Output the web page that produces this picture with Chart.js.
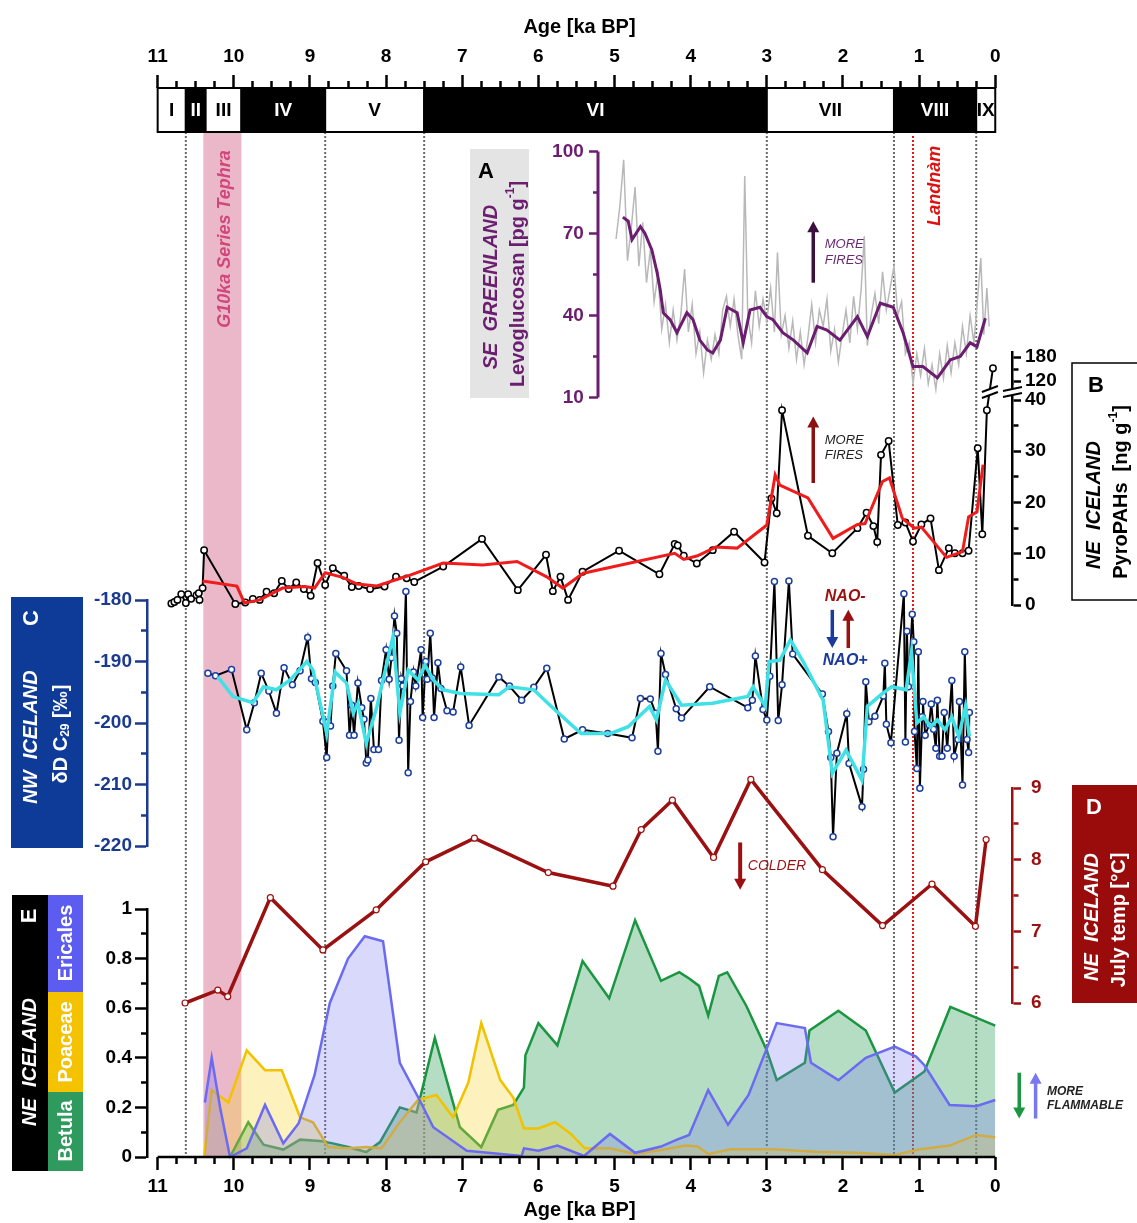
<!DOCTYPE html>
<html>
<head>
<meta charset="utf-8">
<script src="https://cdn.jsdelivr.net/npm/chart.js@4.4.1/dist/chart.umd.min.js"></script>
<style>
  html, body { margin: 0; padding: 0; background: #fff; }
</style>
</head>
<body>
<canvas id="chart" width="1137" height="1223"></canvas>
<script>
// ---- period bar (ka BP) ----
const periodNames = ['I', 'II', 'III', 'IV', 'V', 'VI', 'VII', 'VIII', 'IX'];
const periodStart = [11, 10.63, 10.37, 9.9, 8.8, 7.5, 3.0, 1.33, 0.25];
const periodEnd   = [10.63, 10.37, 9.9, 8.8, 7.5, 3.0, 1.33, 0.25, 0];
const periodDark  = [false, true, false, true, false, true, false, true, false];
const boundaryAges = [10.63, 8.8, 7.5, 3.0, 1.33, 0.25];
const landnamAge = 1.08;
const tephraBand = [10.4, 9.9];

// ---- A: SE Greenland levoglucosan ----
const levoRawAge = [
  4.98,4.93,4.88,4.83,4.78,4.73,4.68,4.63,4.58,4.53,
  4.48,4.43,4.38,4.33,4.28,4.23,4.18,4.13,4.08,4.03,
  3.98,3.93,3.88,3.83,3.78,3.73,3.68,3.63,3.58,3.53,
  3.48,3.43,3.38,3.33,3.29,3.25,3.20,3.15,3.10,3.05,
  3.00,2.95,2.90,2.86,2.81,2.76,2.71,2.66,2.61,2.56,
  2.51,2.46,2.41,2.36,2.31,2.26,2.21,2.16,2.11,2.06,
  2.01,1.96,1.91,1.86,1.81,1.76,1.72,1.68,1.63,1.58,
  1.53,1.48,1.43,1.38,1.33,1.28,1.23,1.18,1.13,1.08,
  1.03,0.98,0.93,0.88,0.83,0.78,0.73,0.68,0.63,0.58,
  0.53,0.48,0.43,0.38,0.33,0.28,0.23,0.19,0.15,0.11,
  0.08];
const levoRaw = [
  68,80,97,60,72,87,58,74,52,64,
  45,55,35,44,30,42,31,40,57,34,
  44,26,34,19,31,24,33,26,42,47,
  36,46,33,24,91,40,30,49,36,46,
  38,50,34,63,33,40,28,38,24,34,
  22,32,44,30,42,36,46,27,35,23,
  33,42,30,47,35,50,69,29,40,48,
  37,56,42,50,58,40,45,26,30,15,
  26,18,28,15,22,13,26,17,29,19,
  30,22,36,26,40,30,47,61,33,50,
  36];
const levoSmoothAge = [
  4.89,4.82,4.77,4.66,4.60,4.51,4.44,4.40,4.36,4.27,
  4.18,4.05,3.97,3.88,3.78,3.71,3.61,3.52,3.39,3.31,
  3.22,3.09,3.00,2.92,2.79,2.65,2.47,2.34,2.21,2.04,
  1.81,1.68,1.51,1.34,1.21,1.08,0.95,0.76,0.59,0.46,
  0.33,0.24,0.13];
const levoSmooth = [
  76,74.5,67.8,72.5,70,64,55.6,49.4,41,38.5,
  33.7,41,38.5,31,27.4,26.3,31,43,41,30,
  42,43,39.6,38.5,33.7,31,26.3,36,34.7,31,
  39.6,32.3,44.5,43,33.7,21.3,21.3,17.2,23.8,25,
  30,28.6,39];

// ---- B: NE Iceland pyroPAHs ----
const pahAge = [
  10.82,10.78,10.74,10.69,10.63,10.60,10.56,10.49,10.46,10.45,
  10.41,10.39,9.98,9.85,9.75,9.66,9.57,9.47,9.37,9.28,
  9.18,9.08,8.99,8.90,8.80,8.70,8.55,8.45,8.36,8.21,
  8.02,7.87,7.73,7.63,7.25,6.74,6.27,5.90,5.81,5.71,
  5.61,5.42,4.94,4.41,4.21,4.17,4.09,3.92,3.71,3.43,
  3.03,2.94,2.87,2.80,2.46,2.14,1.81,1.69,1.60,1.55,
  1.50,1.40,1.28,1.18,1.08,0.97,0.85,0.74,0.61,0.53,
  0.43,0.35,0.23,0.17,0.11];
const pah = [
  0.3,0.6,1.0,2.1,0.4,2.1,1.2,1.9,2.3,1.0,
  3.3,10.7,0.2,0.5,1.2,1.0,2.6,2.3,4.7,3.1,
  4.4,3.1,1.8,8.2,3.9,7.2,5.7,3.5,3.7,3.1,
  3.6,5.5,5.2,4.5,7.5,12.9,2.9,9.8,2.7,5.5,
  1.0,6.5,10.6,6.0,11.9,11.6,9.6,8.1,10.7,14.3,
  8.3,20.8,17.9,38.0,13.5,10.1,15.0,18.0,15.4,12.3,
  29.3,32.0,15.6,16.1,12.4,15.7,16.9,6.8,11.1,10.1,
  10.1,10.6,30.6,13.8,38.0];
const pahTopAge = [0.03];
const pahTop = [152];
const pahSmoothAge = [
  10.41,9.96,9.86,9.66,9.36,9.07,8.94,8.80,8.57,8.38,
  8.12,7.73,7.25,6.73,6.28,5.89,5.68,5.41,4.21,4.09,
  3.91,3.67,3.39,3.00,2.89,2.83,2.46,2.13,1.81,1.71,
  1.48,1.39,1.22,1.06,0.97,0.64,0.43,0.35,0.24,0.16];
const pahSmooth = [
  4.7,3.7,0.4,1.0,3.3,3.6,3.3,6.3,5.4,4.1,
  3.7,5.6,8.2,7.8,8.5,5.5,3.3,6.2,10.1,8.9,
  9.6,11.3,11.1,15.6,25.4,23.4,20.9,13.0,15.7,15.9,
  24.1,24.8,16.9,15.0,15.2,9.3,10.4,17.2,18.2,27.4];

// ---- C: NW Iceland dD C29 ----
const ddAge = [
  10.34,10.24,10.03,9.83,9.73,9.64,9.54,9.44,9.34,9.23,
  9.13,9.03,8.98,8.93,8.83,8.78,8.76,8.73,8.70,8.66,
  8.52,8.48,8.45,8.42,8.37,8.32,8.29,8.26,8.24,8.20,
  8.16,8.10,8.06,8.00,7.96,7.93,7.89,7.86,7.83,7.80,
  7.78,7.74,7.71,7.68,7.64,7.61,7.54,7.52,7.48,7.46,
  7.42,7.39,7.37,7.32,7.28,7.20,7.12,7.02,6.91,6.52,
  6.38,6.22,6.06,5.89,5.66,5.42,5.09,4.77,4.66,4.53,
  4.46,4.43,4.39,4.33,4.19,4.12,3.75,3.25,3.19,3.15,
  3.05,3.00,2.96,2.90,2.85,2.80,2.71,2.66,2.27,2.19,
  2.16,2.13,2.08,1.95,1.92,1.75,1.73,1.70,1.66,1.58,
  1.47,1.45,1.43,1.37,1.20,1.18,1.16,1.14,1.09,1.07,
  1.06,1.03,1.01,0.99,0.96,0.95,0.92,0.87,0.84,0.81,
  0.78,0.76,0.73,0.70,0.67,0.63,0.57,0.54,0.49,0.47,
  0.43,0.40,0.37,0.35,0.34];
const dd = [
  -191.9,-192.3,-191.3,-201.1,-196.7,-191.9,-194.8,-198.4,-191.0,-193.8,
  -191.5,-186.1,-192.8,-193.4,-199.7,-205.6,-199.8,-200.5,-194.0,-188.7,
  -191.5,-202.0,-197.1,-202.0,-193.5,-197.5,-199.4,-206.5,-206.0,-196.0,
  -204.3,-204.3,-193.1,-188.1,-192.9,-189.4,-182.6,-185.4,-202.8,-192.8,
  -194.0,-178.6,-208.1,-196.5,-191.7,-194.0,-188.1,-199.1,-190.0,-192.9,
  -185.4,-192.7,-199.1,-190.2,-194.4,-198.0,-198.2,-190.9,-200.4,-192.5,
  -194.0,-196.3,-194.2,-191.1,-202.6,-201.1,-201.7,-202.4,-196.0,-196.1,
  -198.4,-204.6,-188.7,-192.1,-197.7,-199.2,-194.1,-197.5,-196.3,-189.1,
  -197.8,-199.5,-192.4,-177.0,-199.6,-193.8,-176.9,-188.8,-195.3,-201.4,
  -205.6,-218.5,-204.9,-198.5,-206.6,-213.6,-207.5,-193.3,-199.8,-198.9,
  -195.6,-190.3,-200.2,-203.2,-179.0,-203.1,-185.1,-194.1,-182.3,-186.8,
  -201.4,-207.4,-188.4,-210.6,-199.0,-196.5,-202.0,-200.3,-196.9,-201.0,
  -204.1,-196.3,-205.4,-205.4,-198.3,-204.1,-193.1,-205.4,-202.7,-196.5,
  -210.1,-188.4,-202.7,-204.8,-198.3];
const ddSmoothAge = [
  10.21,10.01,9.75,9.61,9.44,9.26,9.04,8.96,8.78,8.67,
  8.52,8.43,8.37,8.26,8.12,8.04,7.91,7.82,7.71,7.58,
  7.49,7.38,7.25,7.03,6.52,6.38,6.06,5.83,5.44,5.05,
  4.82,4.54,4.45,4.33,4.12,3.71,3.25,3.18,3.02,2.97,
  2.83,2.69,2.51,2.26,2.14,1.96,1.75,1.68,1.50,1.36,
  1.17,1.10,1.03,0.94,0.85,0.76,0.66,0.57,0.48,0.39,
  0.34];
const ddSmooth = [
  -192.5,-195.7,-196.7,-194.1,-194.6,-193.0,-190.0,-191.4,-201.7,-191.7,
  -193.5,-198.4,-196.8,-203.3,-197.3,-193.0,-186.0,-198.4,-191.4,-193.0,
  -190.6,-193.0,-194.6,-195.2,-195.4,-194.1,-194.6,-197.3,-201.7,-201.7,
  -200.6,-197.3,-199.5,-193.0,-197.1,-196.8,-195.7,-194.1,-197.3,-190.0,
  -189.8,-186.5,-190.3,-196.3,-208.2,-204.4,-209.3,-197.3,-195.4,-194.1,
  -194.6,-188.4,-200.0,-199.0,-200.6,-199.5,-201.1,-199.0,-202.2,-197.3,
  -202.2];

// ---- D: NE Iceland July temperature ----
const tempAge = [10.64,10.21,10.08,9.52,8.83,8.13,7.48,6.84,5.87,5.02,4.65,4.24,3.70,3.21,2.27,1.48,0.83,0.26,0.12];
const temp    = [6.0,6.18,6.09,7.47,6.74,7.30,7.97,8.30,7.82,7.63,8.42,8.83,8.03,9.12,7.86,7.08,7.66,7.07,8.28];

// ---- E: NE Iceland pollen ----
const ericAge = [
  10.38,10.29,10.18,10.05,9.83,9.59,9.35,9.15,8.94,8.74,
  8.50,8.28,8.04,7.82,7.56,7.38,6.94,6.49,6.22,6.19,
  6.00,5.75,5.40,5.06,4.73,4.39,4.18,4.02,3.77,3.51,
  3.24,2.87,2.50,2.42,2.06,1.70,1.32,1.04,0.93,0.60,
  0.25,0.00];
const eric = [
  0.22,0.40,0.20,0.00,0.035,0.21,0.055,0.135,0.33,0.62,
  0.80,0.89,0.87,0.38,0.23,0.12,0.025,0.012,0.004,0.035,
  0.025,0.046,0.004,0.093,0.017,0.042,0.07,0.089,0.27,0.13,
  0.25,0.54,0.52,0.38,0.31,0.40,0.445,0.405,0.37,0.21,
  0.205,0.23];
const poaAge = [
  10.39,10.29,10.07,9.83,9.59,9.37,9.13,8.96,8.76,8.50,
  8.26,8.06,7.82,7.58,7.34,7.12,6.92,6.75,6.50,6.33,
  6.19,6.00,5.78,5.58,5.39,5.06,4.73,4.39,4.07,3.91,
  3.77,3.47,2.91,2.36,1.81,1.32,0.99,0.60,0.25,0.00];
const poa = [
  0,0.27,0.22,0.43,0.35,0.35,0.16,0.14,0.04,0.035,
  0.04,0.035,0.14,0.23,0.25,0.16,0.30,0.54,0.31,0.24,
  0.115,0.115,0.14,0.095,0.035,0.035,0.012,0.028,0.046,0.042,
  0.012,0.031,0.031,0.021,0.017,0.008,0.031,0.046,0.089,0.08];
const betAge = [
  10.05,9.81,9.61,9.35,9.13,8.87,8.70,8.50,8.26,8.08,
  7.82,7.60,7.36,7.03,6.75,6.53,6.33,6.19,6.17,6.00,
  5.75,5.42,5.07,4.73,4.39,4.15,4.02,3.89,3.77,3.63,
  3.52,3.27,3.00,2.87,2.50,2.44,2.06,1.70,1.32,0.93,
  0.59,0.00];
const bet = [
  0,0.14,0.05,0.03,0.07,0.065,0.055,0.04,0.02,0.06,
  0.20,0.18,0.48,0.12,0.04,0.19,0.21,0.28,0.41,0.54,
  0.45,0.79,0.64,0.955,0.71,0.745,0.72,0.69,0.57,0.73,
  0.745,0.61,0.43,0.31,0.38,0.51,0.59,0.51,0.26,0.345,
  0.605,0.53];

// ---- tick labels ----
const ageLabels = [0,1,2,3,4,5,6,7,8,9,10,11];
const levoTicks = [10,40,70,100];
const pahTicks = [0,10,20,30,40];
const pahTopTicks = [120,180];
const ddTicks = [-220,-210,-200,-190,-180];
const tempTicks = [6,7,8,9];
const pollenTicks = [0,0.2,0.4,0.6,0.8,1];

// ---- layout ----
const FAM = "'Liberation Sans', Arial, sans-serif";
Chart.defaults.font.family = FAM;
const AREA_TOP = 88, AREA_BOTTOM = 1157, BAR_H = 44;
const X_MIN = -0.22, X_MAX = 11.14;
const KA_PX = 865 / (X_MAX - X_MIN);
const A_AXIS_AGE = 5.22;
const A_LABEL_AGE = A_AXIS_AGE + 14 / KA_PX;
const PURPLE = '#6b1d70', DRED = '#9b1010', BLUE = '#1a3a8f';
const tickFont = { family: FAM, size: 19, weight: 'bold' };
const titleFont = { family: FAM, size: 20, weight: 'bold' };

function fitRange(v1, p1, v2, p2) {
  const s = (p1 - p2) / (v2 - v1);
  return { min: v1 - (AREA_BOTTOM - p1) / s, max: v2 + (p2 - AREA_TOP) / s };
}
function withMinors(majors) {
  const out = [];
  majors.forEach((v, i) => { out.push(v); if (i < majors.length - 1) out.push((v + majors[i + 1]) / 2); });
  return out;
}
const pts = (xs, ys) => xs.map((x, i) => ({ x, y: ys[i] }));

function yScale(o) {
  const majors = o.majors;
  const all = o.minors === false ? majors : withMinors(majors);
  const far = o.position === 'left';
  const s = {
    type: 'linear', position: o.position, min: o.min, max: o.max,
    afterBuildTicks: sc => { sc.ticks = all.map(v => ({ value: v })); },
    border: { display: o.border !== false, color: o.color, width: 2.5 },
    grid: {
      display: o.grid !== false,
      drawOnChartArea: false, tickLength: o.tl, tickWidth: 2.5, tickColor: o.color,
      tickBorderDash: c => (!c.tick || majors.includes(c.tick.value)) ? [] : (far ? [0, o.tl - o.m, o.m, 999] : [o.m, 999])
    },
    ticks: { autoSkip: false, color: o.color, font: tickFont, padding: o.pad,
      callback: v => majors.includes(v) ? o.fmt(v) : '' }
  };
  if (o.stack) { s.stack = o.stack; s.stackWeight = o.stackWeight; s.weight = o.weight; }
  if (o.width) s.afterFit = sc => { sc.width = o.width; };
  return s;
}
const filler = (position, stackWeight, weight) =>
  ({ type: 'linear', display: false, position, stack: position === 'left' ? 'L' : 'R', stackWeight, weight });

const ageTickVals = [];
for (let k = 0; k <= 44; k++) ageTickVals.push(k / 4);
function xScale(position) {
  const top = position === 'top';
  return {
    type: 'linear', position, reverse: true, min: X_MIN, max: X_MAX,
    afterBuildTicks: sc => { sc.ticks = ageTickVals.map(v => ({ value: v })); },
    afterFit: sc => { sc.height = top ? AREA_TOP : 1223 - AREA_BOTTOM; },
    border: { display: false },
    grid: { drawOnChartArea: false, tickLength: 13, tickWidth: 2.5, tickColor: '#000',
      tickBorderDash: c => (!c.tick || Number.isInteger(c.tick.value)) ? [] : (top ? [0, 6, 7, 999] : [7, 999]) },
    ticks: { autoSkip: false, maxRotation: 0, minRotation: 0, color: '#000', font: tickFont,
      padding: top ? 7 : 5, callback: v => ageLabels.includes(v) ? String(v) : '' },
    title: { display: true, text: 'Age [ka BP]', color: '#000', font: titleFont,
      padding: top ? { top: 15, bottom: 0 } : { top: 0, bottom: 1 } }
  };
}

// ---- drawing helpers ----
function arrow(ctx, x, y1, y2, color, w) {
  const dir = Math.sign(y2 - y1), head = 11;
  ctx.save();
  ctx.strokeStyle = color; ctx.fillStyle = color; ctx.lineWidth = w;
  ctx.beginPath(); ctx.moveTo(x, y1); ctx.lineTo(x, y2 - dir * head * 0.7); ctx.stroke();
  ctx.beginPath(); ctx.moveTo(x, y2); ctx.lineTo(x - 6, y2 - dir * head); ctx.lineTo(x + 6, y2 - dir * head);
  ctx.closePath(); ctx.fill();
  ctx.restore();
}
function text(ctx, str, x, y, font, color, align) {
  ctx.save(); ctx.font = font; ctx.fillStyle = color;
  ctx.textAlign = align || 'left'; ctx.textBaseline = 'middle';
  ctx.fillText(str, x, y); ctx.restore();
}
function vRich(ctx, x, y, parts, color, style) {
  ctx.save(); ctx.translate(x, y); ctx.rotate(-Math.PI / 2);
  ctx.fillStyle = color; ctx.textBaseline = 'middle'; ctx.textAlign = 'left';
  let total = 0;
  parts.forEach(p => { ctx.font = `${style} ${p[1]}px ${FAM}`; total += ctx.measureText(p[0]).width; });
  let cx = -total / 2;
  parts.forEach(p => { ctx.font = `${style} ${p[1]}px ${FAM}`; ctx.fillText(p[0], cx, p[2] || 0); cx += ctx.measureText(p[0]).width; });
  ctx.restore();
}
const vText = (ctx, str, x, y, size, color, style) => vRich(ctx, x, y, [[str, size]], color, style);

const decor = {
  id: 'decor',
  beforeDatasetsDraw(chart) {
    const { ctx, chartArea, scales } = chart;
    const X = v => scales.x.getPixelForValue(v);
    const barBottom = AREA_TOP + BAR_H;
    ctx.save();
    ctx.fillStyle = '#ebb8c9';
    ctx.fillRect(X(tephraBand[0]), barBottom, X(tephraBand[1]) - X(tephraBand[0]), chartArea.bottom - barBottom);
    ctx.lineWidth = 2; ctx.setLineDash([2, 2]);
    ctx.strokeStyle = '#6a6a6a';
    boundaryAges.forEach(a => {
      ctx.beginPath(); ctx.moveTo(X(a), barBottom); ctx.lineTo(X(a), chartArea.bottom); ctx.stroke();
    });
    ctx.strokeStyle = '#e01818';
    ctx.beginPath(); ctx.moveTo(X(landnamAge), barBottom + 4); ctx.lineTo(X(landnamAge), chartArea.bottom); ctx.stroke();
    ctx.setLineDash([]);
    // connector across the PyroPAH axis break
    const last = pahAge.length - 1;
    ctx.strokeStyle = '#000'; ctx.lineWidth = 2;
    ctx.beginPath();
    ctx.moveTo(X(pahAge[last]), scales.yB.getPixelForValue(pah[last]));
    ctx.lineTo(X(pahTopAge[0]), scales.yBup.getPixelForValue(pahTop[0]));
    ctx.stroke();
    ctx.restore();
  },
  afterDatasetsDraw(chart) {
    const { ctx, scales } = chart;
    const X = v => scales.x.getPixelForValue(v);
    const Y = (id, v) => scales[id].getPixelForValue(v);
    // break marks
    ctx.save();
    const bx = scales.yB.left, by = Y('yB', 40) - 8;
    ctx.fillStyle = '#fff'; ctx.fillRect(bx - 9, by - 3, 20, 6);
    ctx.strokeStyle = '#000'; ctx.lineWidth = 2;
    [-3, 3].forEach(d => { ctx.beginPath(); ctx.moveTo(bx - 9, by + d + 2); ctx.lineTo(bx + 10, by + d - 2); ctx.stroke(); });
    const cx = (X(pahAge[pahAge.length - 1]) + X(pahTopAge[0])) / 2, cy = by;
    ctx.fillStyle = '#fff'; ctx.fillRect(cx - 8, cy - 3, 16, 6);
    [-3, 3].forEach(d => { ctx.beginPath(); ctx.moveTo(cx - 8, cy + d + 3); ctx.lineTo(cx + 8, cy + d - 3); ctx.stroke(); });
    ctx.restore();

    // annotations
    arrow(ctx, X(2.39), Y('yA', 52), Y('yA', 74.5), '#3b0f40', 3.5);
    text(ctx, 'MORE', X(2.24), Y('yA', 66), `italic 13px ${FAM}`, '#6a2a72');
    text(ctx, 'FIRES', X(2.24), Y('yA', 60), `italic 13px ${FAM}`, '#6a2a72');
    arrow(ctx, X(2.39), Y('yB', 23.8), Y('yB', 36.8), '#8b1010', 3.5);
    text(ctx, 'MORE', X(2.24), Y('yB', 32.2), `italic 13px ${FAM}`, '#222');
    text(ctx, 'FIRES', X(2.24), Y('yB', 29.1), `italic 13px ${FAM}`, '#222');
    text(ctx, 'NAO-', X(1.97), Y('yC', -179.5), `italic bold 16px ${FAM}`, DRED, 'center');
    arrow(ctx, X(2.14), Y('yC', -181.6), Y('yC', -187.8), '#1a3a9c', 3.5);
    arrow(ctx, X(1.93), Y('yC', -187.8), Y('yC', -181.6), DRED, 3.5);
    text(ctx, 'NAO+', X(1.97), Y('yC', -189.9), `italic bold 16px ${FAM}`, '#1a3a9c', 'center');
    arrow(ctx, X(3.35), Y('yD', 8.24), Y('yD', 7.58), DRED, 4);
    text(ctx, 'COLDER', X(3.25), Y('yD', 7.91), `italic 14px ${FAM}`, DRED);
    arrow(ctx, X(-0.315), Y('yE', 0.34), Y('yE', 0.155), '#1a9641', 3.5);
    arrow(ctx, X(-0.53), Y('yE', 0.155), Y('yE', 0.34), '#7878f0', 3.5);
    text(ctx, 'MORE', X(-0.68), Y('yE', 0.263), `italic bold 12px ${FAM}`, '#222');
    text(ctx, 'FLAMMABLE', X(-0.68), Y('yE', 0.206), `italic bold 12px ${FAM}`, '#222');
    vText(ctx, 'Landnàm', X(0.79), Y('yA', 87.5), 18, '#e01010', 'italic bold');
    vText(ctx, 'G10ka Series Tephra', X(10.12), Y('yA', 68), 18, '#d2477a', 'italic bold');
  },
  afterDraw(chart) {
    const { ctx, scales, chartArea } = chart;
    const X = v => scales.x.getPixelForValue(v);
    ctx.save();
    // period bar
    ctx.lineWidth = 2; ctx.strokeStyle = '#000';
    periodNames.forEach((n, i) => {
      const x1 = X(periodStart[i]), x2 = X(periodEnd[i]);
      ctx.fillStyle = periodDark[i] ? '#000' : '#fff';
      ctx.fillRect(x1, AREA_TOP, x2 - x1, BAR_H);
      ctx.strokeRect(x1, AREA_TOP, x2 - x1, BAR_H);
      text(ctx, n, (x1 + x2) / 2, AREA_TOP + BAR_H / 2 + 1, `bold 19px ${FAM}`, periodDark[i] ? '#fff' : '#000', 'center');
    });
    // bottom age axis line
    ctx.lineWidth = 2.5;
    ctx.beginPath(); ctx.moveTo(X(11), chartArea.bottom); ctx.lineTo(X(0), chartArea.bottom); ctx.stroke();
    // A axis line and tick marks
    ctx.strokeStyle = PURPLE; ctx.lineWidth = 3;
    const ax = Math.round(X(A_AXIS_AGE));
    const YA = v => scales.yA.getPixelForValue(v);
    ctx.beginPath(); ctx.moveTo(ax, YA(10)); ctx.lineTo(ax, YA(100)); ctx.stroke();
    ctx.lineWidth = 2.5;
    withMinors(levoTicks).forEach(v => {
      const len = levoTicks.includes(v) ? 9 : 5;
      ctx.beginPath(); ctx.moveTo(ax, YA(v)); ctx.lineTo(ax - len, YA(v)); ctx.stroke();
    });

    // panel label boxes
    ctx.fillStyle = '#e4e4e4'; ctx.fillRect(470, 149, 59, 249);
    text(ctx, 'A', 486, 172, `bold 22px ${FAM}`, '#000', 'center');
    vText(ctx, 'SE  GREENLAND', 491, 287, 20, PURPLE, 'italic bold');
    vRich(ctx, 518, 284, [['Levoglucosan [pg g', 20], ['-1', 12, -7], [']', 20]], PURPLE, 'bold');

    ctx.fillStyle = '#fff'; ctx.fillRect(1072, 363, 80, 237);
    ctx.strokeStyle = '#000'; ctx.lineWidth = 1.5; ctx.strokeRect(1072, 363, 80, 237);
    text(ctx, 'B', 1096, 386, `bold 22px ${FAM}`, '#000', 'center');
    vText(ctx, 'NE  ICELAND', 1094, 505, 20, '#000', 'italic bold');
    vRich(ctx, 1121, 492, [['PyroPAHs  [ng g', 20], ['-1', 12, -7], [']', 20]], '#000', 'bold');

    ctx.fillStyle = '#0d3b97'; ctx.fillRect(11, 597, 72, 251);
    vText(ctx, 'C', 32, 618, 22, '#fff', 'bold');
    vText(ctx, 'NW  ICELAND', 31, 737, 20, '#fff', 'italic bold');
    vRich(ctx, 61, 734, [['δD C', 20], ['29', 12, 5], [' [‰]', 20]], '#fff', 'bold');

    ctx.fillStyle = '#9a0b0b'; ctx.fillRect(1072, 785, 70, 218);
    text(ctx, 'D', 1094, 808, `bold 22px ${FAM}`, '#fff', 'center');
    vText(ctx, 'NE  ICELAND', 1092, 917, 20, '#fff', 'italic bold');
    vText(ctx, 'July temp [°C]', 1119, 920, 20, '#fff', 'bold');

    ctx.fillStyle = '#000'; ctx.fillRect(12, 895, 36, 276);
    ctx.fillStyle = '#5c5cf0'; ctx.fillRect(48, 895, 35, 97);
    ctx.fillStyle = '#f5c200'; ctx.fillRect(48, 992, 35, 100);
    ctx.fillStyle = '#2e9a5e'; ctx.fillRect(48, 1092, 35, 79);
    vText(ctx, 'E', 30, 916, 22, '#fff', 'bold');
    vText(ctx, 'NE  ICELAND', 30, 1062, 20, '#fff', 'italic bold');
    vText(ctx, 'Ericales', 66, 943, 20, '#fff', 'bold');
    vText(ctx, 'Poaceae', 66, 1042, 20, '#fff', 'bold');
    vText(ctx, 'Betula', 66, 1131, 20, '#fff', 'bold');
    ctx.restore();
  }
};

const base = { tension: 0, pointRadius: 0, fill: false, clip: false };
new Chart(document.getElementById('chart'), {
  type: 'line',
  data: {
    datasets: [
      Object.assign({}, base, { label: 'July temp', data: pts(tempAge, temp), yAxisID: 'yD', order: 0,
        borderColor: DRED, borderWidth: 3.5, pointRadius: 3, pointBackgroundColor: '#fff', pointBorderColor: DRED, pointBorderWidth: 1.2 }),
      Object.assign({}, base, { label: 'Levoglucosan smooth', data: pts(levoSmoothAge, levoSmooth), yAxisID: 'yA', order: 1,
        borderColor: PURPLE, borderWidth: 3 }),
      Object.assign({}, base, { label: 'Levoglucosan', data: pts(levoRawAge, levoRaw), yAxisID: 'yA', order: 2,
        borderColor: '#b8b8b8', borderWidth: 1.5 }),
      Object.assign({}, base, { label: 'PyroPAHs smooth', data: pts(pahSmoothAge, pahSmooth), yAxisID: 'yB', order: 1,
        borderColor: '#f01c1c', borderWidth: 3 }),
      Object.assign({}, base, { label: 'PyroPAHs', data: pts(pahAge, pah), yAxisID: 'yB', order: 2,
        borderColor: '#000', borderWidth: 2, pointRadius: 3.2, pointBackgroundColor: '#fff', pointBorderColor: '#000', pointBorderWidth: 1.5 }),
      Object.assign({}, base, { label: 'PyroPAHs top', data: pts(pahTopAge, pahTop), yAxisID: 'yBup', order: 2,
        borderColor: '#000', borderWidth: 2, pointRadius: 3.2, pointBackgroundColor: '#fff', pointBorderColor: '#000', pointBorderWidth: 1.5 }),
      Object.assign({}, base, { label: 'dD smooth', data: pts(ddSmoothAge, ddSmooth), yAxisID: 'yC', order: 1,
        borderColor: '#3fe0e6', borderWidth: 3.5 }),
      Object.assign({}, base, { label: 'dD', data: pts(ddAge, dd), yAxisID: 'yC', order: 2,
        borderColor: '#000', borderWidth: 2, pointRadius: 3, pointBackgroundColor: '#fff', pointBorderColor: '#1c3f9e', pointBorderWidth: 1.5 }),
      Object.assign({}, base, { label: 'Ericales', data: pts(ericAge, eric), yAxisID: 'yE', order: 3,
        borderColor: '#6b6bf2', borderWidth: 2.5, fill: 'origin', backgroundColor: 'rgba(120,120,245,0.28)' }),
      Object.assign({}, base, { label: 'Poaceae', data: pts(poaAge, poa), yAxisID: 'yE', order: 4,
        borderColor: '#f2c200', borderWidth: 2.5, fill: 'origin', backgroundColor: 'rgba(250,210,50,0.32)' }),
      Object.assign({}, base, { label: 'Betula', data: pts(betAge, bet), yAxisID: 'yE', order: 5,
        borderColor: '#1a9641', borderWidth: 2.5, fill: 'origin', backgroundColor: 'rgba(46,160,90,0.36)' })
    ]
  },
  options: {
    responsive: false, animation: false, events: [],
    layout: { padding: 0 },
    plugins: { legend: { display: false }, tooltip: { enabled: false } },
    scales: {
      x: xScale('bottom'),
      xTop: xScale('top'),
      yA: yScale(Object.assign({ position: { x: A_LABEL_AGE }, majors: levoTicks, color: PURPLE, tl: 8, m: 5, pad: 6,
        border: false, grid: false, fmt: v => String(v) }, fitRange(10, 397.5, 100, 151.5))),
      // left stack
      fL1: filler('left', 512, 4),
      yC: yScale({ position: 'left', stack: 'L', stackWeight: 246, weight: 3, width: 147, min: -220, max: -180,
        majors: ddTicks, color: BLUE, tl: 12, m: 6, pad: 3, fmt: v => String(v) }),
      fL2: filler('left', 63, 2),
      yE: yScale({ position: 'left', stack: 'L', stackWeight: 248, weight: 1, width: 147, min: 0, max: 1,
        majors: pollenTicks, color: '#000', tl: 12, m: 6, pad: 3, fmt: v => v === 0 ? '0' : v === 1 ? '1' : v.toFixed(1) }),
      // right stack
      fR1: filler('right', 264, 1),
      yBup: yScale({ position: 'right', stack: 'R', stackWeight: 32, weight: 2, width: 125, min: 112.5, max: 192.5,
        majors: pahTopTicks, color: '#000', tl: 9, m: 5, pad: 4, fmt: v => String(v) }),
      yB: yScale({ position: 'right', stack: 'R', stackWeight: 221, weight: 3, width: 125, min: 0, max: 221 / 5.125,
        majors: pahTicks, color: '#000', tl: 9, m: 5, pad: 4, fmt: v => String(v) }),
      fR2: filler('right', 183, 4),
      yD: yScale({ position: 'right', stack: 'R', stackWeight: 215, weight: 5, width: 125, min: 6, max: 9,
        majors: tempTicks, color: DRED, tl: 9, m: 5, pad: 10, fmt: v => String(v) }),
      fR3: filler('right', 154, 6)
    }
  },
  plugins: [decor]
});
</script>
</body>
</html>
